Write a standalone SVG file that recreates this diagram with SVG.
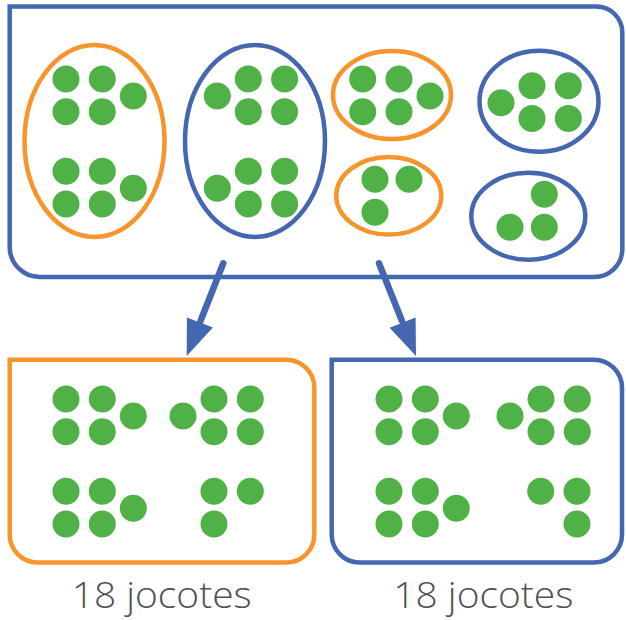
<svg xmlns="http://www.w3.org/2000/svg" width="626" height="620" viewBox="0 0 626 620">
<style>
.box{fill:none;stroke-width:4.5}
.b{stroke:#4566B0}
.o{stroke:#F7952D}
.ell{fill:none;stroke-width:4.5}
.dot{fill:#50B147}
.lbl{font-family:"Open Sans","Liberation Sans",sans-serif;font-size:37px;font-weight:300;fill:#505050;text-anchor:middle}
.arr{stroke:#4566B0;stroke-width:6.5;stroke-linecap:round;fill:none}
.head{fill:#4566B0}
</style>
<defs>
<g id="five"><circle class="dot" cx="0" cy="0" r="13.5"/><circle class="dot" cx="36.3" cy="0" r="13.5"/><circle class="dot" cx="67.3" cy="17" r="13.5"/><circle class="dot" cx="0" cy="32.7" r="13.5"/><circle class="dot" cx="36.3" cy="32.7" r="13.5"/></g>
<g id="fiveL"><circle class="dot" cx="0" cy="17" r="13.5"/><circle class="dot" cx="31" cy="0" r="13.5"/><circle class="dot" cx="67.3" cy="0" r="13.5"/><circle class="dot" cx="31" cy="32.7" r="13.5"/><circle class="dot" cx="67.3" cy="32.7" r="13.5"/></g>
</defs>
<g id="top-box">
<path class="box b" d="M9.7,6.5 H596 A26,26 0 0 1 622.3,32.5 V249 A28,28 0 0 1 594.3,277 H39.7 A30,30 0 0 1 9.7,247 Z"/>
</g>
<g id="group-1">
<ellipse class="ell o" cx="94.5" cy="141" rx="70" ry="96"/>
<use href="#five" x="66" y="79"/>
<use href="#five" x="66" y="171.3"/>
</g>
<g id="group-2">
<ellipse class="ell b" cx="255" cy="141" rx="70" ry="96"/>
<use href="#fiveL" x="217.3" y="79"/>
<use href="#fiveL" x="217.3" y="171.3"/>
</g>
<g id="group-3">
<ellipse class="ell o" cx="392" cy="95" rx="59" ry="44"/>
<use href="#five" x="362.7" y="79"/>
</g>
<g id="group-4">
<ellipse class="ell b" cx="539" cy="101.3" rx="59.5" ry="50.5"/>
<use href="#fiveL" x="501" y="85.7"/>
</g>
<g id="group-5">
<ellipse class="ell o" cx="388.8" cy="195.8" rx="52.5" ry="38.8"/>
<circle class="dot" cx="375" cy="179.3" r="13.5"/>
<circle class="dot" cx="409" cy="179.3" r="13.5"/>
<circle class="dot" cx="375" cy="212.3" r="13.5"/>
</g>
<g id="group-6">
<ellipse class="ell b" cx="528.3" cy="216.2" rx="57" ry="43.5"/>
<circle class="dot" cx="544.3" cy="194.3" r="13.5"/>
<circle class="dot" cx="510" cy="227.3" r="13.5"/>
<circle class="dot" cx="544.3" cy="227.3" r="13.5"/>
</g>
<g id="connectors">
<line class="arr" x1="223.3" y1="263.3" x2="200.5" y2="321"/>
<polygon class="head" points="186.7,356 212.9,327.6 186.9,317.4"/>
<line class="arr" x1="379" y1="263.3" x2="402" y2="321"/>
<polygon class="head" points="416,356 415.6,317.4 389.6,327.8"/>
</g>
<g id="box-left">
<path class="box o" d="M9.7,359.7 H286.3 A28,28 0 0 1 314.3,387.7 V534.5 A28,28 0 0 1 286.3,562.5 H37.7 A28,28 0 0 1 9.7,534.5 Z"/>
<use href="#five" x="66" y="399"/>
<use href="#fiveL" x="183" y="399"/>
<use href="#five" x="66" y="491.3"/>
<circle class="dot" cx="214" cy="491.3" r="13.5"/>
<circle class="dot" cx="250.3" cy="491.3" r="13.5"/>
<circle class="dot" cx="214" cy="524" r="13.5"/>
<text class="lbl" x="161.7" y="608.3" textLength="180" lengthAdjust="spacingAndGlyphs">18 jocotes</text>
</g>
<g id="box-right">
<path class="box b" d="M331.7,359.7 H594 A28,28 0 0 1 622,387.7 V534.5 A28,28 0 0 1 594,562.5 H359.7 A28,28 0 0 1 331.7,534.5 Z"/>
<use href="#five" x="389" y="399"/>
<use href="#fiveL" x="510" y="399"/>
<use href="#five" x="389" y="491.3"/>
<circle class="dot" cx="540.7" cy="491.3" r="13.5"/>
<circle class="dot" cx="577" cy="491.3" r="13.5"/>
<circle class="dot" cx="577" cy="524" r="13.5"/>
<text class="lbl" x="483.3" y="608.3" textLength="180" lengthAdjust="spacingAndGlyphs">18 jocotes</text>
</g>
</svg>
